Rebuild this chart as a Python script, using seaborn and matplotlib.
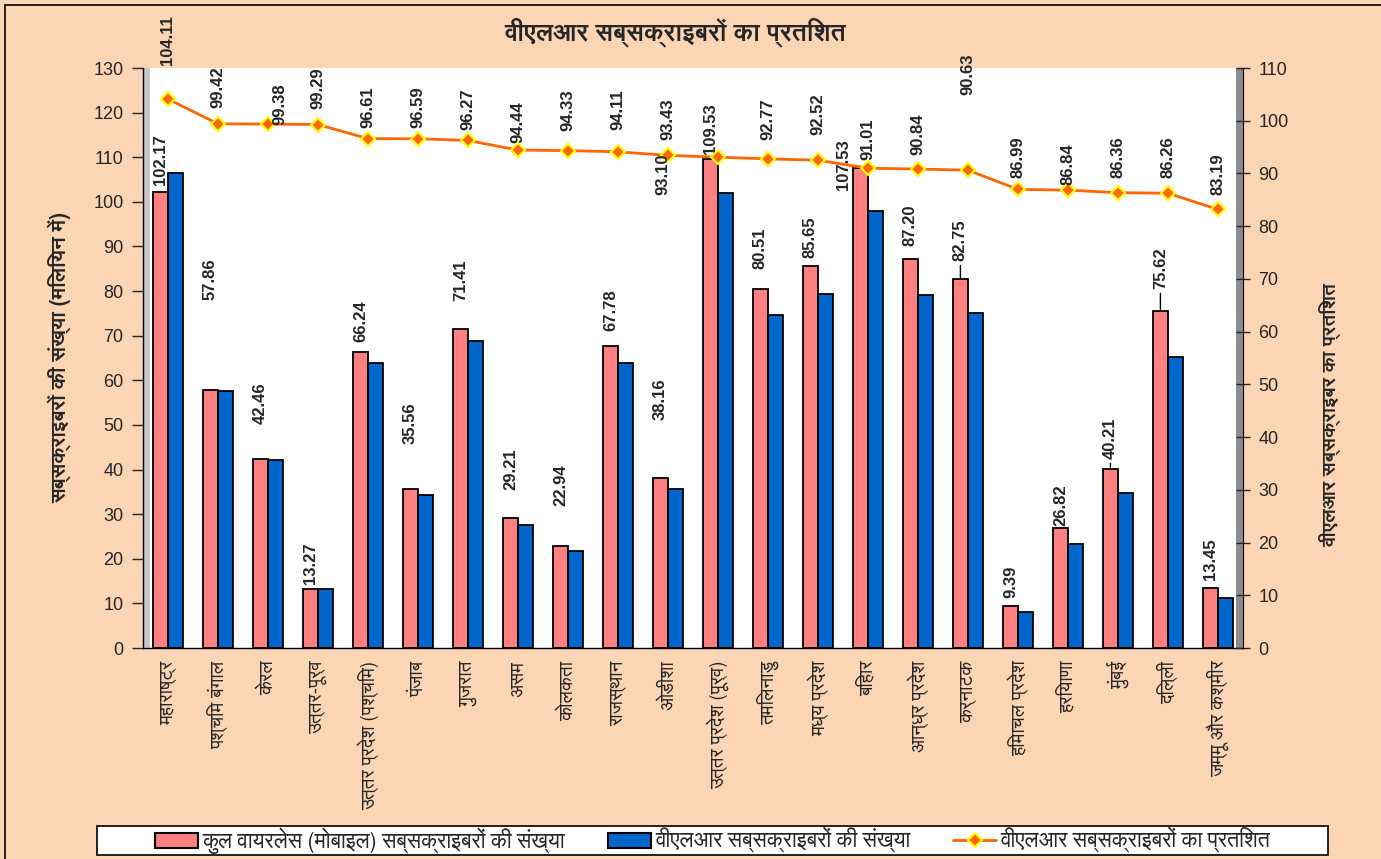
import numpy as np
import pandas as pd
import matplotlib
matplotlib.use("Agg")
import matplotlib.pyplot as plt
import seaborn as sns
from matplotlib import font_manager
from matplotlib.ft2font import FT2Font
from matplotlib.patches import Rectangle
from matplotlib.lines import Line2D

# ---- data ----
states = ["महाराष्ट्र", "पश्चिम बंगाल", "केरल", "उत्तर-पूर्व", "उत्तर प्रदेश (पश्चिम)",
          "पंजाब", "गुजरात", "असम", "कोलकता", "राजस्थान", "ओडीशा",
          "उत्तर प्रदेश (पूर्व)", "तमिलनाडु", "मध्य प्रदेश", "बिहार", "आन्ध्र प्रदेश",
          "कर्नाटक", "हिमाचल प्रदेश", "हरियाणा", "मुंबई", "दिल्ली", "जम्मू और कश्मीर"]
total_subs = [102.17, 57.86, 42.46, 13.27, 66.24, 35.56, 71.41, 29.21, 22.94, 67.78, 38.16,
              109.53, 80.51, 85.65, 107.53, 87.20, 82.75, 9.39, 26.82, 40.21, 75.62, 13.45]
vlr_subs = [106.37, 57.52, 42.20, 13.18, 63.99, 34.35, 68.75, 27.59, 21.64, 63.79, 35.65,
            101.97, 74.69, 79.24, 97.86, 79.21, 75.00, 8.17, 23.29, 34.73, 65.23, 11.19]
vlr_pct = [104.11, 99.42, 99.38, 99.29, 96.61, 96.59, 96.27, 94.44, 94.33, 94.11, 93.43,
           93.10, 92.77, 92.52, 91.01, 90.84, 90.63, 86.99, 86.84, 86.36, 86.26, 83.19]

s_total = "कुल वायरलेस (मोबाइल) सब्सक्राइबरों की संख्या"
s_vlr = "वीएलआर सब्सक्राइबरों की संख्या"
s_pct = "वीएलआर सब्सक्राइबरों का प्रतिशत"

# label nudges (pixels)
bar_lbl_dx = [0] * 22
bar_lbl_dy = [7, 90, 35, 5, 10, 45, 28, 28, 40, 15, 58, 5, 20, 8, -22, 13, 18, 8, 2, 10, 22, 8]
bar_lbl_dx[14] = -17
leader = [16, 19, 20]
pct_lbl_dx = [0] * 22
pct_lbl_dy = [34, 16, -1, 16, 11, 11, 10, 7, 20, 22, 15, -38, 19, 25, 8, 14, 75, 11, 5, 15, 15, 14]
pct_lbl_dx[2] = 12
pct_lbl_dx[11] = -55


def devanagari_font():
    # families that cover Devanagari; prefer one that also has a bold face
    found = {}
    for f in font_manager.fontManager.ttflist:
        try:
            if 0x0915 in FT2Font(f.fname).get_charmap():
                w = f.weight if isinstance(f.weight, int) else 400
                found.setdefault(f.name, set()).add(w)
        except Exception:
            pass
    if not found:
        return None
    def score(name):
        s = 0
        if max(found[name]) >= 600:
            s += 2
        if "Sans" in name:
            s += 1
        return s
    return sorted(found, key=score, reverse=True)[0]


sns.set_style("white")
deva = devanagari_font()
plt.rcParams["font.family"] = [deva, "DejaVu Sans"] if deva else ["DejaVu Sans"]
num_font = "Liberation Sans"

peach = "#FCD5B5"
pink = "#FF8080"
blue = "#0066CC"
orange = "#FF6600"

df = pd.DataFrame({"state": states * 2,
                   "series": [s_total] * 22 + [s_vlr] * 22,
                   "value": total_subs + vlr_subs})

fig = plt.figure(figsize=(13.81, 8.59), dpi=100, facecolor=peach)
ax = fig.add_axes([0.1035, 0.2456, 0.7965, 0.6752])
ax.set_facecolor("white")

sns.barplot(data=df, x="state", y="value", hue="series", hue_order=[s_total, s_vlr],
            palette=[pink, blue], saturation=1, width=0.6, edgecolor="black",
            linewidth=1.3, legend=False, ax=ax)
ax.set_xlim(-0.5, 21.5)
ax.set_ylim(0, 130)
ax.set_yticks(range(0, 131, 10))
ax.set_xlabel("")
ax.set_ylabel("")
for t in ax.get_yticklabels():
    t.set_fontfamily(num_font)
    t.set_fontsize(13)
ax.set_xticks(np.arange(22))
ax.set_xticklabels(states, rotation=90, fontsize=13.5, va="top", ha="center")
ax.set_xticks(np.arange(-0.5, 22, 1), minor=True)
ax.tick_params(axis="x", which="major", length=0, pad=9)
ax.tick_params(axis="x", which="minor", length=8, direction="inout", width=1)
ax.tick_params(axis="y", length=8, direction="out", width=1, pad=6)
for side in ["top", "right"]:
    ax.spines[side].set_visible(False)
for side in ["left", "bottom"]:
    ax.spines[side].set_color("black")
    ax.spines[side].set_linewidth(1)

# grey 3-D wall / floor
ax.add_patch(Rectangle((0, 0), 0.006, 1, transform=ax.transAxes, facecolor="#C8C8C8",
                       edgecolor="none", zorder=0))
ax.add_patch(Rectangle((0.994, 0), 0.006, 1, transform=ax.transAxes, facecolor="#8C8C8C",
                       edgecolor="none", zorder=0))

ax2 = ax.twinx()
sns.lineplot(x=np.arange(22), y=vlr_pct, ax=ax2, color=orange, linewidth=2,
             marker="D", markersize=7, markerfacecolor=orange, markeredgecolor="#FFFF00",
             markeredgewidth=1.5)
ax2.set_ylim(0, 110)
ax2.set_yticks(range(0, 111, 10))
ax2.set_xlim(-0.5, 21.5)
for t in ax2.get_yticklabels():
    t.set_fontfamily(num_font)
    t.set_fontsize(13)
ax2.tick_params(axis="y", length=10, direction="inout", width=1, pad=6)
for side in ["top", "left", "bottom"]:
    ax2.spines[side].set_visible(False)
ax2.spines["right"].set_color("black")

# value labels on the total bars
for i, v in enumerate(total_subs):
    kw = {}
    if i in leader:
        kw["arrowprops"] = dict(arrowstyle="-", color="black", lw=1, shrinkA=1, shrinkB=1)
    ax.annotate(f"{v:.2f}", xy=(i - 0.15, v), xytext=(bar_lbl_dx[i], bar_lbl_dy[i]),
                textcoords="offset pixels", rotation=90, ha="center", va="bottom",
                fontsize=12, fontweight="bold", family=num_font, **kw)

# percentage labels
for i, v in enumerate(vlr_pct):
    ax2.annotate(f"{v:.2f}", xy=(i, v), xytext=(pct_lbl_dx[i], pct_lbl_dy[i]),
                 textcoords="offset pixels", rotation=90, ha="center", va="bottom",
                 fontsize=12, fontweight="bold", family=num_font, annotation_clip=False)

fig.text(0.489, 0.962, s_pct, ha="center", va="center", fontsize=18, fontweight="bold")
fig.text(0.043, 0.584, "सब्सक्राइबरों की संख्या (मिलियन में)", rotation=90,
         ha="center", va="center", fontsize=15, fontweight="bold")
fig.text(0.963, 0.517, "वीएलआर सब्सक्राइबर का प्रतिशत", rotation=90,
         ha="center", va="center", fontsize=14, fontweight="bold")

# outer frame (top and left edges visible)
fig.add_artist(Line2D([0.0036, 1.0], [0.994, 0.994], color="black", lw=1.2))
fig.add_artist(Line2D([0.0036, 0.0036], [0.0, 0.994], color="black", lw=1.2))

# legend box drawn separately so the entries can sit centred inside it
fig.add_artist(Rectangle((0.0702, 0.0047), 0.8914, 0.0337, transform=fig.transFigure,
                         facecolor="white", edgecolor="black", lw=1.2))
handles = [Rectangle((0, 0), 1, 1, facecolor=pink, edgecolor="black", lw=1.5),
           Rectangle((0, 0), 1, 1, facecolor=blue, edgecolor="black", lw=1.5),
           Line2D([], [], color=orange, lw=2, marker="D", markersize=7,
                  markerfacecolor=orange, markeredgecolor="#FFFF00", markeredgewidth=1.5)]
leg = fig.legend(handles, [s_total, s_vlr, s_pct], loc="center", ncol=3,
                 bbox_to_anchor=(0.5159, 0.0215), frameon=False,
                 fontsize=15.5, handlelength=2.0, handleheight=0.7, handletextpad=0.2,
                 borderaxespad=0, borderpad=0, columnspacing=2.0)
leg.set_zorder(5)

fig.savefig("out.png", dpi=100, facecolor=peach)
